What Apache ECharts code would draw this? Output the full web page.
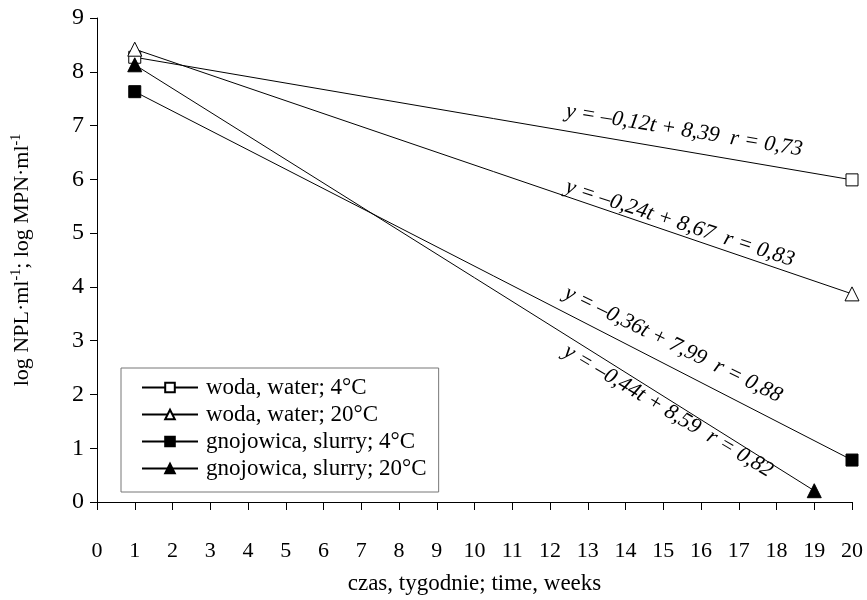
<!DOCTYPE html>
<html><head><meta charset="utf-8">
<script src="https://cdn.jsdelivr.net/npm/echarts@6/dist/echarts.min.js"></script>
<style>html,body{margin:0;padding:0;background:#fff}#c{width:867px;height:600px}</style>
</head><body><div id="c"></div>
<script>
const seriesNames = ['woda, water; 4°C','woda, water; 20°C','gnojowica, slurry; 4°C','gnojowica, slurry; 20°C'];
const woda4 = [[1, 8.27], [20, 5.99]];
const woda20 = [[1, 8.42], [20, 3.87]];
const slurry4 = [[1, 7.63], [20, 0.78]];
const slurry20 = [[1, 8.13], [19, 0.21]];
const equations = ['y = –0,12t + 8,39  r = 0,73','y = –0,24t + 8,67  r = 0,83','y = –0,36t + 7,99  r = 0,88','y = –0,44t + 8,59  r = 0,82'];
const eqPos = [[15.55, 6.91],[15.44, 5.18],[15.26, 2.93],[15.13, 1.69]];
const xTicks = [0,20,1];
const yTicks = [0,9,1];

const font = 'Liberation Serif';
const chart = echarts.init(document.getElementById('c'));
const mk = (name, data, symbol, fill) => ({
  name, type:'line', data, symbol, symbolSize: symbol==='triangle'?14:12,
  lineStyle:{color:'#000',width:1}, itemStyle:{color:fill,borderColor:'#000',borderWidth:1},
  animation:false, z: 3
});
chart.setOption({
  animation:false,
  grid:{left:97,right:15,top:18,bottom:86},
  legend:{orient:'vertical',left:121,top:368,itemWidth:56,itemHeight:12,itemGap:4,
    borderColor:'#777',borderWidth:1,padding:[8,12,12,20],
    textStyle:{fontFamily:font,fontSize:23,color:'#000',padding:[0,0,0,3]},
    data:seriesNames},
  xAxis:{type:'value',min:xTicks[0],max:xTicks[1],interval:xTicks[2],
    axisLine:{lineStyle:{color:'#000'}},axisTick:{lineStyle:{color:'#000'},length:8},
    splitLine:{show:false},
    axisLabel:{fontFamily:font,fontSize:22,color:'#000',margin:38},
    name:'czas, tygodnie; time, weeks',nameLocation:'middle',nameGap:70,
    nameTextStyle:{fontFamily:font,fontSize:23,color:'#000'}},
  yAxis:{type:'value',min:yTicks[0],max:yTicks[1],interval:yTicks[2],
    axisLine:{show:true,lineStyle:{color:'#000'}},axisTick:{show:true,lineStyle:{color:'#000'},length:7},
    splitLine:{show:false},
    axisLabel:{fontFamily:font,fontSize:24,color:'#000',margin:13},
    name:'{a|log NPL·ml}{s|-1}{a|; log MPN·ml}{s|-1}',nameLocation:'middle',nameGap:62,nameRotate:90,
    nameTextStyle:{fontFamily:font,fontSize:22,color:'#000',
      rich:{a:{fontFamily:font,fontSize:22,color:'#000'},s:{fontFamily:font,fontSize:14,color:'#000',verticalAlign:'top',padding:[0,0,12,0]}}}},
  series:[
    mk(seriesNames[0], woda4, 'rect', '#fff'),
    mk(seriesNames[1], woda20, 'triangle', '#fff'),
    mk(seriesNames[2], slurry4, 'rect', '#000'),
    mk(seriesNames[3], slurry20, 'triangle', '#000')
  ]
});
const lines = [woda4, woda20, slurry4, slurry20];
const g = equations.map((t,i)=>{
  const a = chart.convertToPixel({gridIndex:0}, lines[i][0]);
  const b = chart.convertToPixel({gridIndex:0}, lines[i][1]);
  const ang = Math.atan2(b[1]-a[1], b[0]-a[0]);
  const p = chart.convertToPixel({gridIndex:0}, eqPos[i]);
  return {type:'text', x:p[0], y:p[1], rotation:-ang*0.96, originX:0, originY:0,
    style:{text:t, fontFamily:font, fontStyle:'italic', fontSize:22, fill:'#000', align:'center', verticalAlign:'middle'}};
});
chart.setOption({graphic:g});
</script></body></html>
